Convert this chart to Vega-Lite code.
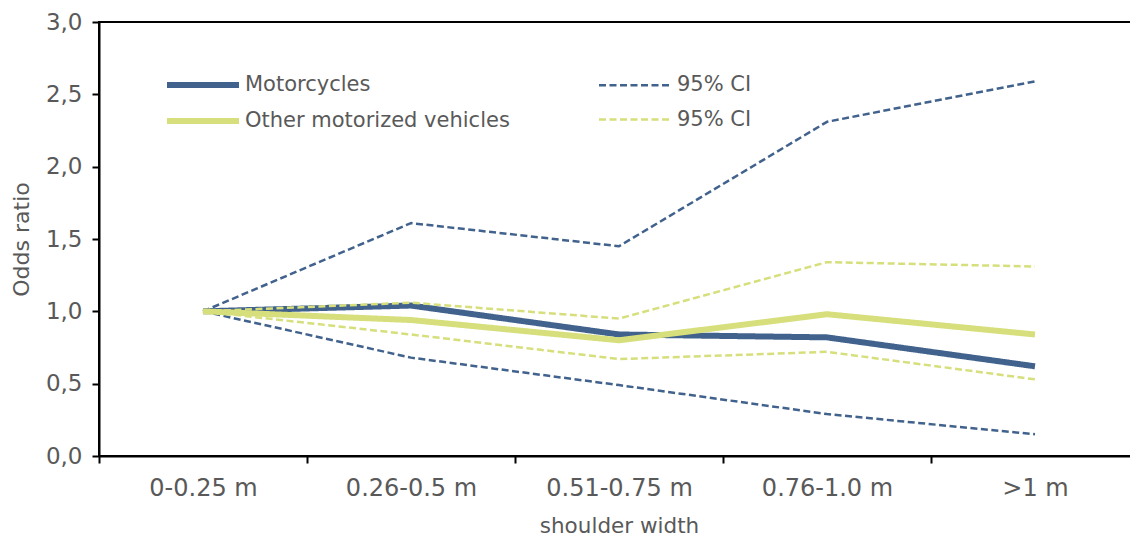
{
  "$schema": "https://vega.github.io/schema/vega-lite/v6.json",
  "width": 1040,
  "height": 434,
  "autosize": {"type": "none"},
  "padding": {"left": 99, "top": 22, "right": 0, "bottom": 82},
  "background": "white",
  "config": {
    "view": {"stroke": "black", "strokeWidth": 2},
    "font": "DejaVu Sans",
    "axis": {
      "domainColor": "black",
      "domainWidth": 2,
      "tickColor": "black",
      "tickWidth": 2,
      "tickSize": 7,
      "grid": false,
      "labelColor": "#595959",
      "labelFont": "DejaVu Sans",
      "titleColor": "#595959",
      "titleFont": "DejaVu Sans",
      "titleFontWeight": "normal"
    },
    "legend": {
      "labelColor": "#595959",
      "labelFont": "DejaVu Sans",
      "labelFontSize": 21,
      "labelLimit": 400
    }
  },
  "data": {
    "values": [
      {"width": "0-0.25 m", "line": "mc", "group": "Motorcycles", "odds": 1.0},
      {"width": "0.26-0.5 m", "line": "mc", "group": "Motorcycles", "odds": 1.04},
      {"width": "0.51-0.75 m", "line": "mc", "group": "Motorcycles", "odds": 0.84},
      {"width": "0.76-1.0 m", "line": "mc", "group": "Motorcycles", "odds": 0.82},
      {"width": ">1 m", "line": "mc", "group": "Motorcycles", "odds": 0.62},

      {"width": "0-0.25 m", "line": "mc_hi", "group": "Motorcycles 95% CI", "odds": 1.0},
      {"width": "0.26-0.5 m", "line": "mc_hi", "group": "Motorcycles 95% CI", "odds": 1.61},
      {"width": "0.51-0.75 m", "line": "mc_hi", "group": "Motorcycles 95% CI", "odds": 1.45},
      {"width": "0.76-1.0 m", "line": "mc_hi", "group": "Motorcycles 95% CI", "odds": 2.31},
      {"width": ">1 m", "line": "mc_hi", "group": "Motorcycles 95% CI", "odds": 2.59},

      {"width": "0-0.25 m", "line": "mc_lo", "group": "Motorcycles 95% CI", "odds": 1.0},
      {"width": "0.26-0.5 m", "line": "mc_lo", "group": "Motorcycles 95% CI", "odds": 0.68},
      {"width": "0.51-0.75 m", "line": "mc_lo", "group": "Motorcycles 95% CI", "odds": 0.49},
      {"width": "0.76-1.0 m", "line": "mc_lo", "group": "Motorcycles 95% CI", "odds": 0.29},
      {"width": ">1 m", "line": "mc_lo", "group": "Motorcycles 95% CI", "odds": 0.15},

      {"width": "0-0.25 m", "line": "omv", "group": "Other motorized vehicles", "odds": 1.0},
      {"width": "0.26-0.5 m", "line": "omv", "group": "Other motorized vehicles", "odds": 0.94},
      {"width": "0.51-0.75 m", "line": "omv", "group": "Other motorized vehicles", "odds": 0.80},
      {"width": "0.76-1.0 m", "line": "omv", "group": "Other motorized vehicles", "odds": 0.98},
      {"width": ">1 m", "line": "omv", "group": "Other motorized vehicles", "odds": 0.84},

      {"width": "0-0.25 m", "line": "omv_hi", "group": "Other motorized vehicles 95% CI", "odds": 1.0},
      {"width": "0.26-0.5 m", "line": "omv_hi", "group": "Other motorized vehicles 95% CI", "odds": 1.06},
      {"width": "0.51-0.75 m", "line": "omv_hi", "group": "Other motorized vehicles 95% CI", "odds": 0.95},
      {"width": "0.76-1.0 m", "line": "omv_hi", "group": "Other motorized vehicles 95% CI", "odds": 1.34},
      {"width": ">1 m", "line": "omv_hi", "group": "Other motorized vehicles 95% CI", "odds": 1.31},

      {"width": "0-0.25 m", "line": "omv_lo", "group": "Other motorized vehicles 95% CI", "odds": 1.0},
      {"width": "0.26-0.5 m", "line": "omv_lo", "group": "Other motorized vehicles 95% CI", "odds": 0.84},
      {"width": "0.51-0.75 m", "line": "omv_lo", "group": "Other motorized vehicles 95% CI", "odds": 0.67},
      {"width": "0.76-1.0 m", "line": "omv_lo", "group": "Other motorized vehicles 95% CI", "odds": 0.72},
      {"width": ">1 m", "line": "omv_lo", "group": "Other motorized vehicles 95% CI", "odds": 0.53}
    ]
  },
  "mark": {"type": "line", "strokeJoin": "round"},
  "encoding": {
    "x": {
      "field": "width",
      "type": "nominal",
      "sort": ["0-0.25 m", "0.26-0.5 m", "0.51-0.75 m", "0.76-1.0 m", ">1 m"],
      "scale": {"type": "band", "paddingInner": 0, "paddingOuter": 0},
      "axis": {
        "title": "shoulder width",
        "titleFontSize": 21.5,
        "titlePadding": 15,
        "labelFontSize": 24,
        "labelAngle": 0,
        "labelPadding": 13,
        "tickBand": "extent"
      }
    },
    "y": {
      "field": "odds",
      "type": "quantitative",
      "scale": {"domain": [0, 3], "nice": false, "zero": true},
      "axis": {
        "title": "Odds ratio",
        "titleFontSize": 22,
        "titlePadding": 12,
        "labelFontSize": 23,
        "values": [0, 0.5, 1, 1.5, 2, 2.5, 3],
        "labelExpr": "replace(format(datum.value, '.1f'), '.', ',')",
        "labelPadding": 10
      }
    },
    "detail": {"field": "line"},
    "color": {
      "field": "group",
      "type": "nominal",
      "scale": {
        "domain": ["Motorcycles", "Other motorized vehicles", "Motorcycles 95% CI", "Other motorized vehicles 95% CI"],
        "range": ["#41628c", "#d6df7b", "#41628c", "#d6df7b"]
      },
      "legend": {
        "title": null,
        "orient": "none",
        "legendX": 89,
        "legendY": 48,
        "columns": 2,
        "columnPadding": 84,
        "rowPadding": 9,
        "padding": 0,
        "symbolType": "M-3,0H3",
        "symbolSize": 576,
        "labelOffset": 27,
        "labelExpr": "indexof(datum.label, '95% CI') >= 0 ? '95% CI' : datum.label"
      }
    },
    "strokeDash": {
      "field": "group",
      "type": "nominal",
      "scale": {
        "type": "ordinal",
        "domain": ["Motorcycles", "Other motorized vehicles", "Motorcycles 95% CI", "Other motorized vehicles 95% CI"],
        "range": [[1, 0], [1, 0], [7, 3.5], [7, 3.5]]
      },
      "legend": null
    },
    "strokeWidth": {
      "field": "group",
      "type": "nominal",
      "scale": {
        "type": "ordinal",
        "domain": ["Motorcycles", "Other motorized vehicles", "Motorcycles 95% CI", "Other motorized vehicles 95% CI"],
        "range": [6, 6, 2.5, 2.5]
      },
      "legend": null
    }
  }
}
